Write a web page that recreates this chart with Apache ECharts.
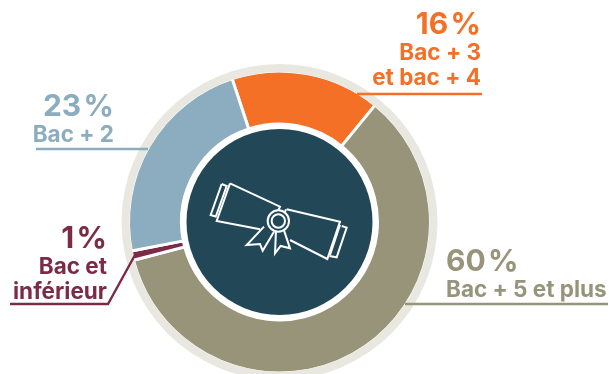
<!DOCTYPE html>
<html><head><meta charset="utf-8">
<style>html,body{margin:0;padding:0;background:#fff}#c{width:609px;height:374px}</style>
<script src="https://cdn.jsdelivr.net/npm/echarts@6/dist/echarts.min.js"></script>
</head><body><div id="c"></div>
<script>
const categories = ["Bac + 3\net bac + 4", "Bac + 5 et plus", "Bac et\ninférieur", "Bac + 2"];
const values = [16, 60, 1, 23];
const colors = ["#F47026", "#98947A", "#7C2B47", "#8BADBF"];
const labelAnchors = [[481, 8, "right"], [446, 245, "left"], [107, 222, "right"], [114, 90, "right"]];
const leaders = [
  [[357, 94], [482, 94]],
  [[405, 304], [608, 304]],
  [[10, 304], [108, 304], [135, 255]],
  [[36, 149], [148, 149]]
];
const icon = [
  [[120,70],[270,140],[262,156]],
  [[120,70],[80,183],[210,208]],
  [[95,72],[62,165],[80,170]],
  [[95,72],[110,78],[78,168]],
  [[290,148],[450,185],[412,297],[300,240]],
  [[288,148],[283,160]],
  [[455,198],[470,203],[440,292],[418,288]],
  [[450,195],[420,285]],
  [[222,200],[170,255],[210,252],[218,272],[252,215]],
  [[258,212],[255,280],[272,258],[300,265],[280,205]]
];
const chart = echarts.init(document.getElementById('c'), null, {renderer:'canvas'});
const cx = 279.5, cy = 222;
const font = 'Inter';
const iconEls = icon.map(p => ({type:'polyline', z:12, silent:true, x:190, y:160, scaleX:1/3, scaleY:1/3, shape:{points:p}, style:{fill:null, stroke:'#fff', lineWidth:6, lineJoin:'miter'}}));
[32,20].forEach(r=>iconEls.push({type:'circle', z:12, silent:true, x:190, y:160, scaleX:1/3, scaleY:1/3, shape:{cx:265,cy:183,r:r}, style:{fill:'#224858', stroke:'#fff', lineWidth:6}}));
chart.setOption({
  animation:false,
  backgroundColor:'#fff',
  graphic:[
    {type:'ring', z:9, silent:true, shape:{cx:cx,cy:cy,r:158,r0:150}, style:{fill:'#E9E8E0'}},
    {type:'circle', z:10, silent:true, shape:{cx:cx,cy:cy,r:98}, style:{fill:'#fff'}},
    {type:'circle', z:11, silent:true, shape:{cx:cx,cy:cy,r:93}, style:{fill:'#224858'}},
    ...iconEls,
    ...leaders.map((p,i)=>({type:'polyline', z:13, silent:true, shape:{points:p}, style:{fill:null, stroke:colors[i], lineWidth:2.4}}))
  ],
  series:[{
    type:'pie', z:5, silent:true, center:[cx,cy], radius:[98,151], startAngle:108.3, clockwise:true,
    avoidLabelOverlap:false, minShowLabelAngle:0, padAngle:0,
    itemStyle:{borderColor:'#fff', borderWidth:3},
    labelLine:{show:false},
    data: values.map((v,i)=>({
      name:categories[i], value:v,
      itemStyle:{color:colors[i]},
      label:{
        show:true, position:'outside', color:colors[i], fontFamily:font, fontWeight:700,
        align:labelAnchors[i][2],
        formatter:()=> '{p|'+v+'\u200a%}\n' + categories[i].split('\n').map(s=>'{n|'+s+'}').join('\n'),
        rich:{
          p:{fontSize:30, fontWeight:700, fontFamily:font, color:colors[i], lineHeight:33, align:labelAnchors[i][2]},
          n:{fontSize:22.5, fontWeight:700, fontFamily:font, color:colors[i], lineHeight:24.5, align:labelAnchors[i][2]}
        }
      }
    })),
    labelLayout:(p)=>({x:labelAnchors[p.dataIndex][0], y:labelAnchors[p.dataIndex][1], align:labelAnchors[p.dataIndex][2], verticalAlign:'top', hideOverlap:false, moveOverlap:false})
  }]
});
</script></body></html>
